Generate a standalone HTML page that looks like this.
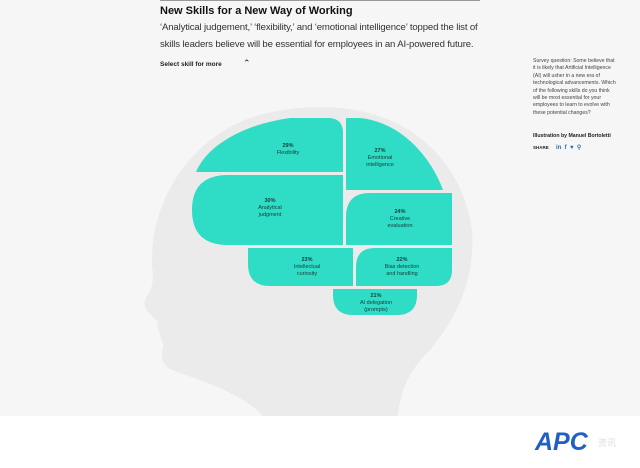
<!DOCTYPE html>
<html><head><meta charset="utf-8"><style>
body{margin:0;width:640px;height:468px;background:#fff;font-family:"Liberation Sans",sans-serif;overflow:hidden;position:relative}
.bg{position:absolute;left:0;top:0;width:640px;height:416px;background:#f6f6f6}
.t{position:absolute;color:#222}
</style></head><body>
<div class="bg"></div>
<div style="position:absolute;left:160px;top:0;width:320px;height:1px;background:#999"></div>
<div class="t" style="left:160px;top:5px;font-size:11px;font-weight:bold;color:#111">New Skills for a New Way of Working</div>
<div class="t" style="left:160px;top:19px;font-size:9.6px;line-height:17px;width:340px;color:#333;letter-spacing:-0.15px">‘Analytical judgement,’ ‘flexibility,’ and ‘emotional intelligence’ topped the list of<br>skills leaders believe will be essential for employees in an AI-powered future.</div>
<div class="t" style="left:160px;top:61px;font-size:6.5px;font-weight:bold">Select skill for more</div>
<div class="t" style="left:243px;top:58px;font-size:9px">&#8963;</div>
<div class="t" style="left:533px;top:58px;width:85px;font-size:5.2px;line-height:7.4px;color:#444">Survey question: Some believe that it is likely that Artificial Intelligence (AI) will usher in a new era of technological advancements. Which of the following skills do you think will be most essential for your employees to learn to evolve with these potential changes?</div>
<div class="t" style="left:533px;top:133px;font-size:5.2px;font-weight:bold">Illustration by Manuel Bortoletti</div>
<div class="t" style="left:533px;top:144px;font-size:4.5px;font-weight:bold">SHARE <span style="color:#2a6ab8;font-size:6px;margin-left:6px">in &nbsp;f &nbsp;♥ &nbsp;⚲</span></div>
<svg width="640" height="468" style="position:absolute;left:0;top:0">
<path d="M263 416 C245 395 200 380 172 370 C163 366 160 358 163 348 C164 342 160 338 160 334 C160 330 156 328 158 322 L150 314 C144 308 143 302 147 296 C153 288 154 278 152 266 C150 200 190 140 250 118 C280 108 310 106 340 108 C410 114 462 160 472 230 C476 280 455 320 430 350 C410 370 400 390 398 416 Z" fill="#ebebeb"/>
<g fill="#2fdcc5">
<path d="M196 172 C205 150 235 126 290 118 L328 118 Q343 118 343 133 L343 172 Z"/>
<path d="M346 118 L360 118 C400 122 430 155 443 190 L346 190 Z"/>
<path d="M228 175 L343 175 L343 245 L228 245 Q192 245 192 210 Q192 175 228 175 Z"/>
<path d="M370 193 L452 193 L452 245 L346 245 L346 217 Q346 193 370 193 Z"/>
<path d="M248 248 L353 248 L353 286 L270 286 Q248 286 248 264 Z"/>
<path d="M375 248 L452 248 L452 270 Q452 286 436 286 L356 286 L356 267 Q356 248 375 248 Z"/>
<path d="M333 289 L417 289 L417 295 Q417 315 397 315 L353 315 Q333 315 333 295 Z"/>
</g>
<g font-family="Liberation Sans,sans-serif" font-size="5.5" fill="#17403c" text-anchor="middle">
<text x="288" y="147" font-weight="bold">29%</text><text x="288" y="154">Flexibility</text>
<text x="380" y="152" font-weight="bold">27%</text><text x="380" y="159">Emotional</text><text x="380" y="166">intelligence</text>
<text x="270" y="202" font-weight="bold">30%</text><text x="270" y="209">Analytical</text><text x="270" y="216">judgment</text>
<text x="400" y="213" font-weight="bold">24%</text><text x="400" y="220">Creative</text><text x="400" y="227">evaluation</text>
<text x="307" y="261" font-weight="bold">23%</text><text x="307" y="268">Intellectual</text><text x="307" y="275">curiosity</text>
<text x="402" y="261" font-weight="bold">22%</text><text x="402" y="268">Bias detection</text><text x="402" y="275">and handling</text>
<text x="376" y="297" font-weight="bold">21%</text><text x="376" y="304">AI delegation</text><text x="376" y="311">(prompts)</text>
</g>
</svg>
<div class="t" style="left:535px;top:428px;font-size:25px;font-weight:bold;font-style:italic;color:#1f5fc6">APC</div>
<div class="t" style="left:598px;top:436px;font-size:9px;color:#ddd">资讯</div>
</body></html>
